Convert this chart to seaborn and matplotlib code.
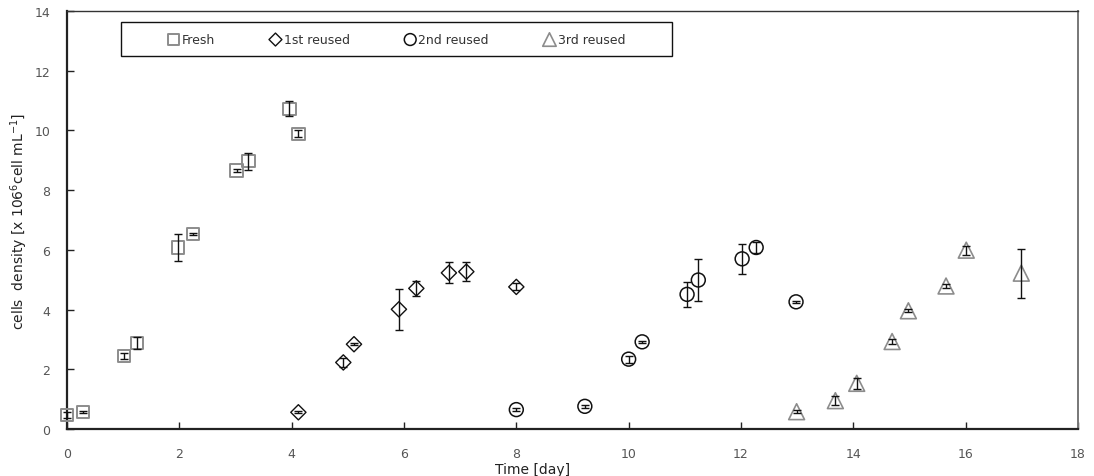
import matplotlib
matplotlib.use("Agg")
import matplotlib.pyplot as plt
from matplotlib.patches import Rectangle
import seaborn as sns
import pandas as pd

# Cell density measurements (mean and error) for each culture cycle
fresh_day = [0.0, 0.28, 1.02, 1.25, 1.98, 2.25, 3.02, 3.23, 3.96, 4.12]
fresh_density = [0.47, 0.57, 2.45, 2.87, 6.08, 6.52, 8.66, 8.97, 10.73, 9.89]
fresh_err = [0.10, 0.05, 0.10, 0.20, 0.45, 0.03, 0.05, 0.28, 0.25, 0.12]

reuse1_day = [4.12, 4.92, 5.11, 5.91, 6.22, 6.80, 7.11, 8.00]
reuse1_density = [0.56, 2.23, 2.84, 4.01, 4.71, 5.23, 5.27, 4.76]
reuse1_err = [0.03, 0.15, 0.03, 0.68, 0.26, 0.35, 0.32, 0.12]

reuse2_day = [8.00, 9.22, 10.00, 10.24, 11.04, 11.24, 12.02, 12.27, 12.98]
reuse2_density = [0.65, 0.76, 2.34, 2.92, 4.51, 4.99, 5.70, 6.08, 4.26]
reuse2_err = [0.05, 0.05, 0.12, 0.03, 0.43, 0.71, 0.50, 0.17, 0.03]

reuse3_day = [12.99, 13.68, 14.06, 14.69, 14.98, 15.65, 16.01, 16.99]
reuse3_density = [0.58, 0.95, 1.53, 2.93, 3.96, 4.79, 5.99, 5.22]
reuse3_err = [0.05, 0.15, 0.18, 0.07, 0.05, 0.06, 0.15, 0.82]

series_names = ["Fresh", "1st reused", "2nd reused", "3rd reused"]
x_ticks = [0, 2, 4, 6, 8, 10, 12, 14, 16, 18]
y_ticks = [0, 2, 4, 6, 8, 10, 12, 14]

frames = []
for name, d, v, e in zip(
    series_names,
    [fresh_day, reuse1_day, reuse2_day, reuse3_day],
    [fresh_density, reuse1_density, reuse2_density, reuse3_density],
    [fresh_err, reuse1_err, reuse2_err, reuse3_err],
):
    frames.append(pd.DataFrame({"day": d, "density": v, "err": e, "cycle": name}))
df = pd.concat(frames, ignore_index=True)

sns.set_theme(style="white")
plt.rcParams["font.family"] = ["DejaVu Sans"]
plt.rcParams["mathtext.default"] = "regular"

fig, ax = plt.subplots(figsize=(10.94, 4.77), dpi=100)
fig.subplots_adjust(left=0.0612, right=0.9854, bottom=0.0985, top=0.9748)

styles = {
    "Fresh": dict(marker="s", s=78, edgecolor="#8c8c8c", linewidth=1.4),
    "1st reused": dict(marker="D", s=60, edgecolor="#111111", linewidth=1.0),
    "2nd reused": dict(marker="o", s=100, edgecolor="#111111", linewidth=1.1),
    "3rd reused": dict(marker="^", s=130, edgecolor="#8c8c8c", linewidth=1.2),
}

for name in series_names:
    sub = df[df["cycle"] == name]
    st = styles[name]
    sns.scatterplot(
        data=sub, x="day", y="density", ax=ax,
        marker=st["marker"], s=st["s"], facecolor="none",
        edgecolor=st["edgecolor"], linewidth=st["linewidth"],
        label=name, clip_on=False, zorder=3,
    )
    ax.errorbar(
        sub["day"], sub["density"], yerr=sub["err"], fmt="none",
        ecolor="#111111", elinewidth=1.0, capsize=2.6, capthick=1.0,
        clip_on=False, zorder=4,
    )

ax.set_xlim(0, 18)
ax.set_ylim(0, 14)
ax.set_xticks(x_ticks)
ax.set_yticks(y_ticks)
ax.tick_params(axis="both", direction="in", length=5, width=1.0,
               color="#222222", labelcolor="#555555", labelsize=9)
ax.tick_params(axis="x", pad=13, bottom=True)
ax.tick_params(axis="y", pad=12, left=True)

for side in ["left", "bottom"]:
    ax.spines[side].set_color("#222222")
    ax.spines[side].set_linewidth(1.6)
ax.spines["top"].set_color("#333333")
ax.spines["top"].set_linewidth(1.0)
ax.spines["right"].set_color("#777777")
ax.spines["right"].set_linewidth(1.4)

ax.set_xlabel("Time [day]", fontsize=10, color="#222222")
ax.xaxis.set_label_coords(0.461, -0.078)
ax.set_ylabel("cells  density [x 106$^{6}$cell mL$^{-1}$]", fontsize=10,
              color="#222222")
ax.yaxis.set_label_coords(-0.0366, 0.5)

# Legend inside a boxed strip at the top-left of the plot area
box_x0, box_x1, box_y0, box_y1 = 0.0534, 0.5984, 0.8916, 0.973
ax.add_patch(Rectangle((box_x0, box_y0), box_x1 - box_x0, box_y1 - box_y0,
                       transform=ax.transAxes, fill=True, facecolor="white",
                       edgecolor="#111111", linewidth=1.0, zorder=5))
leg = ax.legend(loc="center", bbox_to_anchor=((box_x0 + box_x1) / 2, (box_y0 + box_y1) / 2),
                ncol=4, frameon=False, fontsize=9, handlelength=0.9,
                handletextpad=0.2, columnspacing=4.4, borderpad=0.2,
                markerscale=0.85)
leg.set_zorder(6)
for t in leg.get_texts():
    t.set_color("#333333")

fig.savefig("out.png", dpi=100, facecolor="white")
